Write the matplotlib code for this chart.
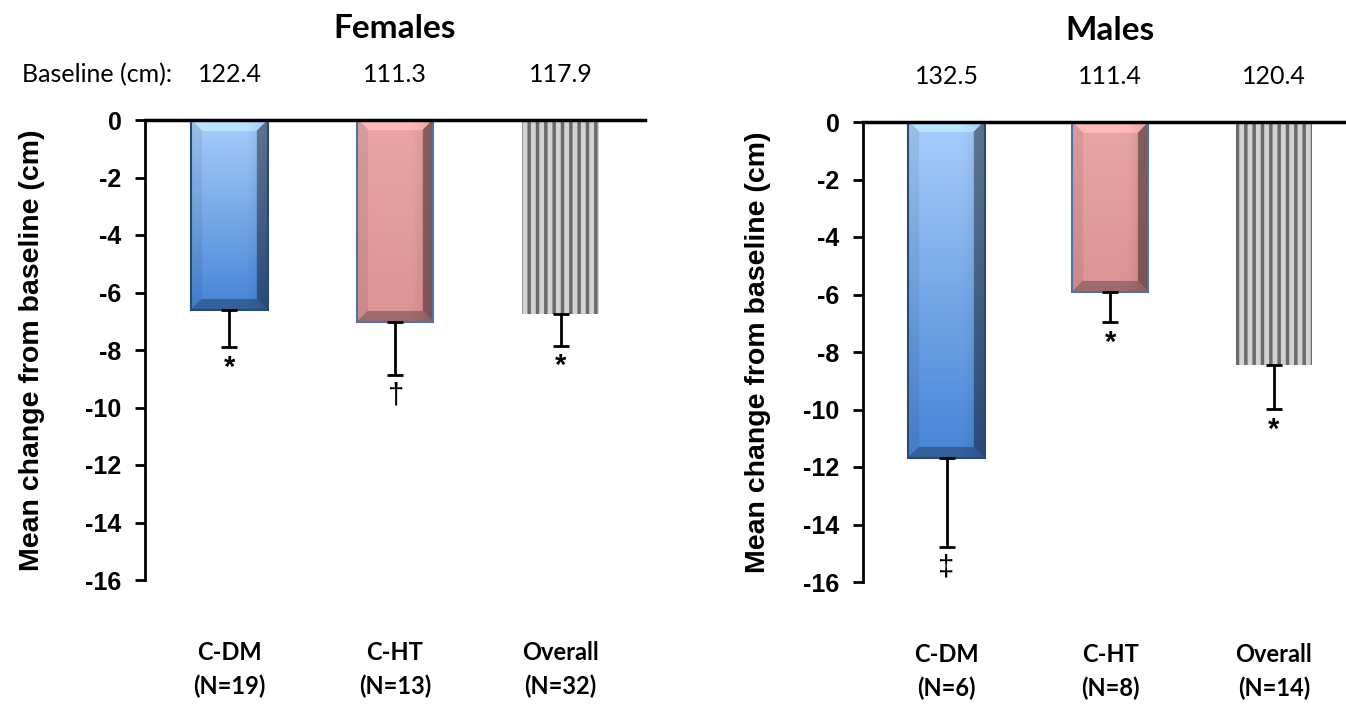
import numpy as np
import matplotlib
matplotlib.use("Agg")
import matplotlib.pyplot as plt
import matplotlib.colors as mcolors

plt.rcParams['hatch.linewidth'] = 2.5
plt.rcParams['axes.unicode_minus'] = False

# data
groups = ["C-DM", "C-HT", "Overall"]
female_n = [19, 13, 32]
male_n = [6, 8, 14]
female_baseline = ["122.4", "111.3", "117.9"]
male_baseline = ["132.5", "111.4", "120.4"]
female_change = [-6.6, -7.03, -6.75]
male_change = [-11.69, -5.91, -8.45]
female_err = [1.3, 1.84, 1.1]
male_err = [3.09, 1.05, 1.53]
female_marks = ["*", "\u2020", "*"]
male_marks = ["\u2021", "*", "*"]

ARIAL = "Liberation Sans"
CALIBRI = "Lato"


def bevel_image(top_col, bot_col, w, h, b):
    top = np.array(mcolors.to_rgb(top_col))
    bot = np.array(mcolors.to_rgb(bot_col))
    yy, xx = np.mgrid[0:h, 0:w]
    t = yy / max(h - 1, 1)
    img = top[None, None, :] * (1 - t[..., None]) + bot[None, None, :] * t[..., None]
    d_left = xx
    d_right = w - 1 - xx
    d_top = yy
    d_bot = h - 1 - yy
    dmin = np.minimum(np.minimum(d_left, d_right), np.minimum(d_top, d_bot))
    fac = np.ones((h, w))
    inside = dmin < b
    fac[inside & (d_top == dmin)] = 1.12
    fac[inside & (d_left == dmin)] = 0.93
    fac[inside & (d_right == dmin)] = 0.62
    fac[inside & (d_bot == dmin)] = 0.72
    # darker right side band
    fac *= 1 - 0.12 * np.clip((xx - 0.7 * w) / (0.3 * w), 0, 1)
    img = np.clip(img * fac[..., None], 0, 1)
    return img


def draw_panel(ax, title, baseline, change, err, marks, nvals, xmax, lab_x, base_label):
    x = np.arange(len(groups))
    ax.set_xlim(-0.51, xmax)
    ax.set_ylim(-16, 0)
    bars = ax.bar(x, change, width=0.465, color="none", zorder=2)
    fig.canvas.draw()
    styles = [("#a8cefc", "#4684d6", "#2b4a70"), ("#e8a6a6", "#dc9393", "#4f73a5"), None]
    for bar, st in zip(bars, styles):
        x0, y0 = bar.get_x(), bar.get_y()
        w, h = bar.get_width(), bar.get_height()
        if st is None:
            ax.bar(bar.get_x() + w / 2, h, width=w, facecolor="#d2d2d2",
                   edgecolor="#6a6a6a", hatch="||", linewidth=0, zorder=2)
            continue
        p0 = ax.transData.transform((x0, y0))
        p1 = ax.transData.transform((x0 + w, y0 + h))
        wp, hp = int(abs(p1[0] - p0[0])), int(abs(p1[1] - p0[1]))
        img = bevel_image(st[0], st[1], wp, hp, 11)
        ax.imshow(img, extent=[x0, x0 + w, y0 + h, y0], aspect="auto",
                  interpolation="bilinear", zorder=2)
        ax.bar(bar.get_x() + w / 2, h, width=w, facecolor="none",
               edgecolor=st[2], linewidth=1.5, zorder=3)
    ax.set_xlim(-0.51, xmax)
    ax.set_ylim(-16, 0)
    ax.errorbar(x, change, yerr=[err, np.zeros(len(err))], fmt="none",
                ecolor="black", elinewidth=2, capsize=6, capthick=2, zorder=4)
    for xi, v, e, m in zip(x, change, err, marks):
        ax.text(xi, v - e - 0.72, m, ha="center", va="center", fontsize=21,
                fontweight="bold" if m == "*" else "normal",
                family=ARIAL, zorder=5)
    ax.axhline(0, color="black", lw=2.5, zorder=5, clip_on=False)
    for s in ["top", "right", "bottom"]:
        ax.spines[s].set_visible(False)
    ax.spines["left"].set_linewidth(2)
    ax.set_yticks(np.arange(-16, 1, 2))
    ax.set_xticks([])
    ax.tick_params(axis="y", direction="out", length=7, width=2, pad=10)
    for lb in ax.get_yticklabels():
        lb.set_fontfamily(ARIAL)
        lb.set_fontweight("bold")
        lb.set_fontsize(18)
    ax.set_ylabel("Mean change from baseline (cm)", fontsize=20.5,
                  fontweight="bold", family=ARIAL)
    ax.yaxis.set_label_coords(lab_x, 0.5)
    ax.patch.set_visible(False)
    tr = ax.get_xaxis_transform()
    ax.text(1, 1.2, title, transform=tr, ha="center", va="center",
            fontsize=24, fontweight="bold", family=CALIBRI)
    for xi, b in zip(x, baseline):
        ax.text(xi, 1.098, b, transform=tr, ha="center", va="center",
                fontsize=18, family=CALIBRI)
    if base_label:
        ax.text(0.054, 1.098, "Baseline (cm):", transform=ax.transAxes,
                ha="right", va="center", fontsize=18, family=CALIBRI)
    for xi, g, n in zip(x, groups, nvals):
        ax.text(xi, -0.158, g, transform=tr, ha="center", va="center",
                fontsize=17, fontweight="bold", family=CALIBRI)
        ax.text(xi, -0.232, f"(N={n})", transform=tr, ha="center", va="center",
                fontsize=17, fontweight="bold", family=CALIBRI)


fig = plt.figure(figsize=(13.46, 7.04), dpi=100)
axL = fig.add_axes([145 / 1346, (704 - 580) / 704, 500 / 1346, 460 / 704])
axR = fig.add_axes([863 / 1346, (704 - 582) / 704, 483 / 1346, 460 / 704])

draw_panel(axL, "Females", female_baseline, female_change, female_err,
           female_marks, female_n, 2.51, -0.20, True)
draw_panel(axR, "Males", male_baseline, male_change, male_err,
           male_marks, male_n, 2.44, -0.19, False)

fig.savefig("out.png", dpi=100, facecolor="white")
